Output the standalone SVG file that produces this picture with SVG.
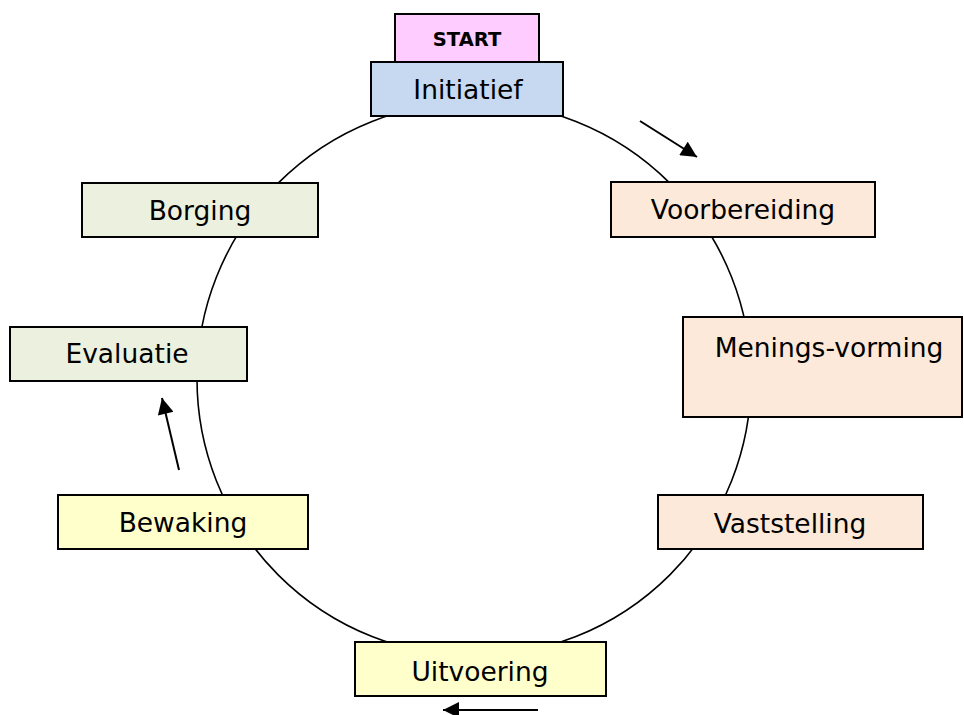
<svg xmlns="http://www.w3.org/2000/svg" width="964" height="715" viewBox="0 0 964 715">
<style>
.box{stroke:#000;stroke-width:2}
.lbl{font-family:"DejaVu Sans",Verdana,sans-serif;font-size:26.5px;fill:#000;text-anchor:middle}
.conn{fill:none;stroke:#000;stroke-width:2}
</style>
<defs>
<marker id="ah" viewBox="0 0 10 10" refX="10" refY="5" markerWidth="10" markerHeight="8" markerUnits="strokeWidth" orient="auto">
<path d="M0,0 L10,5 L0,10 Z" fill="#000"/>
</marker>
</defs>
<rect width="964" height="715" fill="#fff"/>
<g id="connectors">
<circle cx="474" cy="379" r="277" fill="none" stroke="#000" stroke-width="1.6"/>
<line class="conn" x1="640" y1="121" x2="697" y2="157" marker-end="url(#ah)"/>
<line class="conn" x1="538" y1="710" x2="443" y2="710" marker-end="url(#ah)"/>
<line class="conn" x1="179" y1="470" x2="162" y2="398" marker-end="url(#ah)"/>
</g>
<g id="start"><rect class="box" x="395" y="14" width="144" height="48" fill="#ffccff"/><text class="lbl" x="467" y="46" style="font-size:19.5px;font-weight:bold">START</text></g>
<g id="initiatief"><rect class="box" x="371" y="62" width="192" height="54" fill="#c6d9f1"/><text class="lbl" x="468" y="99">Initiatief</text></g>
<g id="voorbereiding"><rect class="box" x="611" y="182" width="264" height="55" fill="#fde9d9"/><text class="lbl" x="743" y="219">Voorbereiding</text></g>
<g id="meningsvorming"><rect class="box" x="683" y="317" width="279" height="100" fill="#fde9d9"/><text class="lbl" x="829" y="357">Menings-vorming</text></g>
<g id="vaststelling"><rect class="box" x="658" y="495" width="265" height="54" fill="#fde9d9"/><text class="lbl" x="790" y="533">Vaststelling</text></g>
<g id="uitvoering"><rect class="box" x="355" y="642" width="251" height="54" fill="#ffffcc"/><text class="lbl" x="480" y="681">Uitvoering</text></g>
<g id="bewaking"><rect class="box" x="58" y="495" width="250" height="54" fill="#ffffcc"/><text class="lbl" x="183" y="532">Bewaking</text></g>
<g id="evaluatie"><rect class="box" x="10" y="327" width="237" height="54" fill="#ebf1de"/><text class="lbl" x="127" y="363">Evaluatie</text></g>
<g id="borging"><rect class="box" x="82" y="183" width="236" height="54" fill="#ebf1de"/><text class="lbl" x="200" y="220">Borging</text></g>
</svg>
